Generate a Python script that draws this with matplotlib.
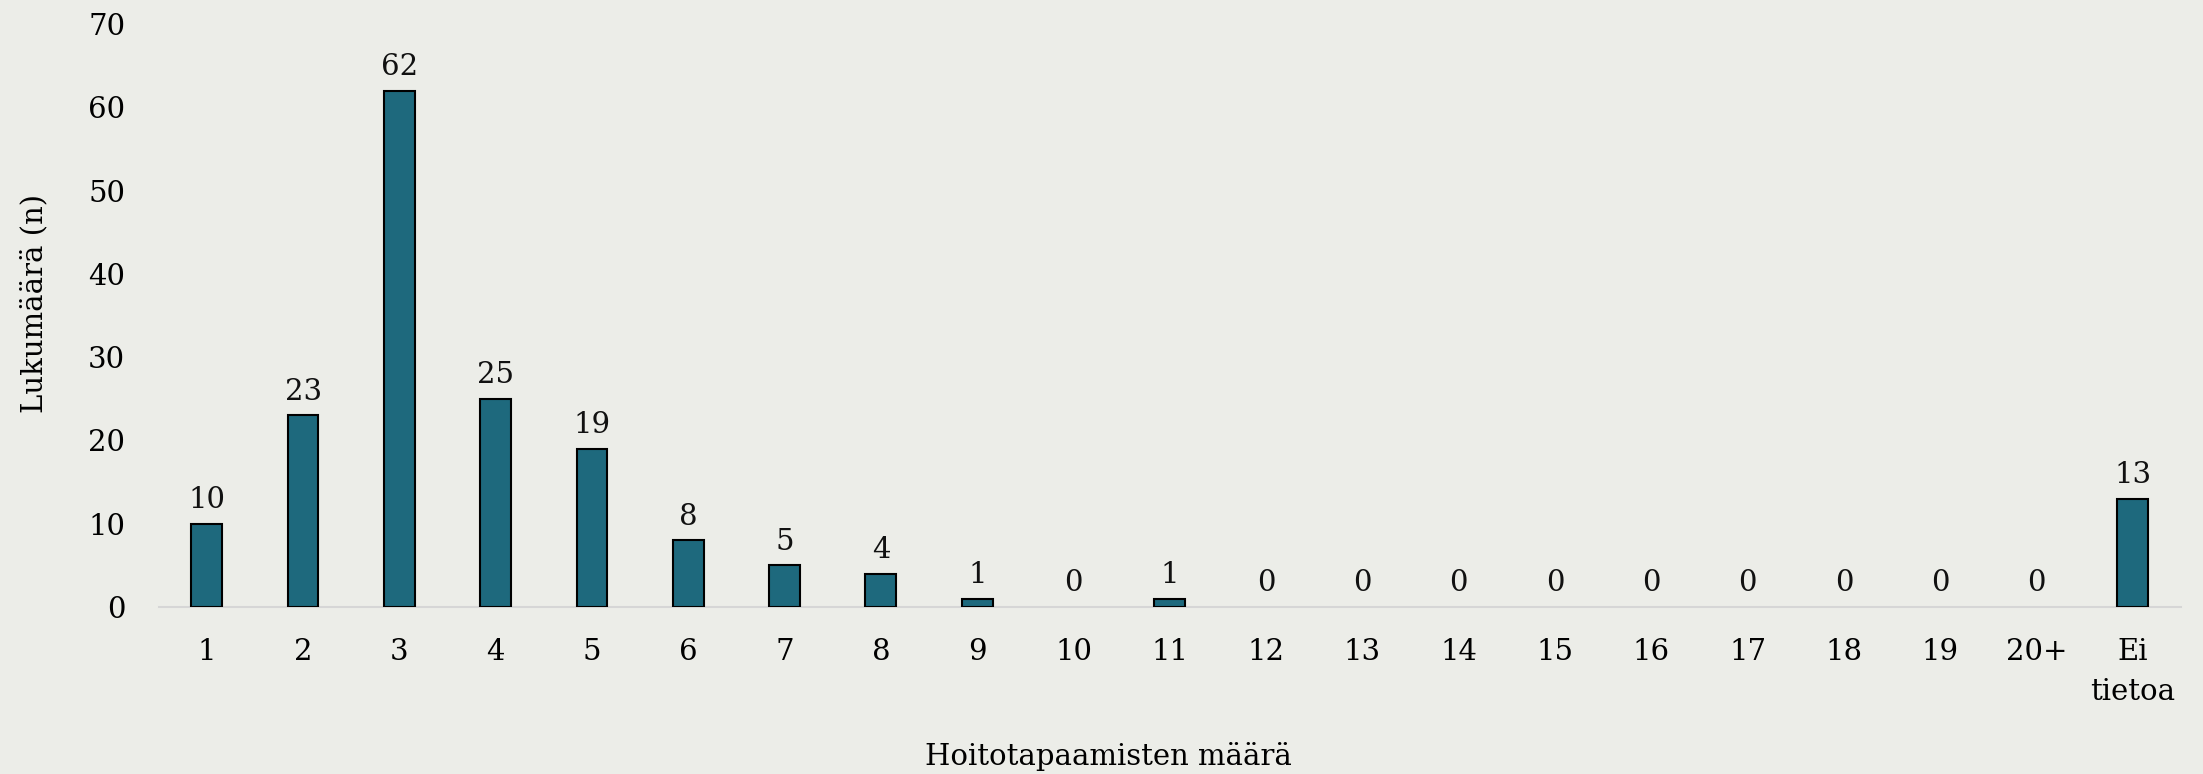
import matplotlib
matplotlib.use("Agg")
import matplotlib.pyplot as plt

categories = ["1", "2", "3", "4", "5", "6", "7", "8", "9", "10", "11", "12", "13",
              "14", "15", "16", "17", "18", "19", "20+", "Ei\ntietoa"]
values = [10, 23, 62, 25, 19, 8, 5, 4, 1, 0, 1, 0, 0, 0, 0, 0, 0, 0, 0, 0, 13]
y_ticks = [0, 10, 20, 30, 40, 50, 60, 70]

bg = "#ecede8"
bar_color = "#1e697d"
plt.rcParams['font.family'] = ['DejaVu Serif']
fs = 21

fig = plt.figure(figsize=(22.03, 7.74), dpi=100, facecolor=bg)
ax = fig.add_axes([0.072, 0.2158, 0.918, 0.7532], facecolor=bg)

x = list(range(len(categories)))
bars = ax.bar(x, values, width=0.32, color=bar_color, edgecolor="black", linewidth=1.5, zorder=3)
for b, v in zip(bars, values):
    if v == 0:
        b.set_linewidth(0)
for xi, v in zip(x, values):
    ax.annotate(str(v), (xi, v), xytext=(0, 7), textcoords="offset points",
                ha="center", va="bottom", fontsize=fs, color="#111111")

ax.set_xlim(-0.5, len(categories) - 0.5)
ax.set_ylim(0, 70)
ax.set_yticks(y_ticks)
ax.set_xticks(x)
ax.set_xticklabels(categories, fontsize=fs, linespacing=1.55, va="top")
ax.tick_params(axis="y", labelsize=fs, length=0, pad=24)
ax.tick_params(axis="x", length=0, pad=22)
for s in ["top", "right", "left"]:
    ax.spines[s].set_visible(False)
ax.spines["bottom"].set_color("#d6d6d6")
ax.spines["bottom"].set_linewidth(1.5)

ax.set_ylabel("Lukumäärä (n)", fontsize=fs)
ax.yaxis.set_label_coords(-0.0545, 0.52)
fig.text(0.503, 0.023, "Hoitotapaamisten määrä", fontsize=fs, ha="center", va="center")

fig.savefig("out.png", dpi=100, facecolor=bg)
